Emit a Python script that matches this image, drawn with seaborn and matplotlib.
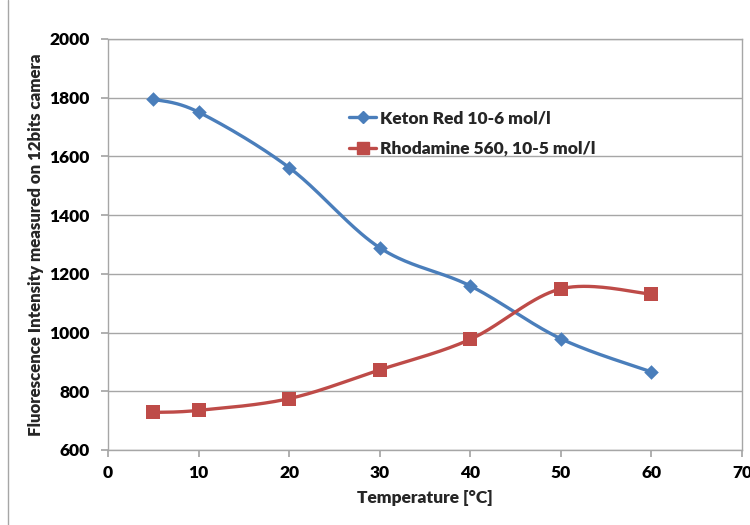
import numpy as np
import pandas as pd
import matplotlib
matplotlib.use("Agg")
import matplotlib.pyplot as plt
import seaborn as sns
from matplotlib.lines import Line2D

temperature = [5, 10, 20, 30, 40, 50, 60]
keton_red = [1795, 1751, 1562, 1289, 1159, 979, 866]
rhodamine = [728, 735, 775, 873, 977, 1149, 1131]
series_names = ["Keton Red 10-6 mol/l", "Rhodamine 560, 10-5 mol/l"]
x_ticks = [0, 10, 20, 30, 40, 50, 60, 70]
y_ticks = [600, 800, 1000, 1200, 1400, 1600, 1800, 2000]

BLUE = "#4A7EBB"
RED = "#BE4B48"

sns.set_theme(style="white")
plt.rcParams["font.family"] = ["Lato", "DejaVu Sans"]
plt.rcParams["font.weight"] = "heavy"


def smooth(xs, ys, n=40):
    # Catmull-Rom style bezier smoothing (as spreadsheet "smoothed line")
    xs = np.asarray(xs, float)
    ys = np.asarray(ys, float)
    px = np.concatenate([[xs[0]], xs, [xs[-1]]])
    py = np.concatenate([[ys[0]], ys, [ys[-1]]])
    ox, oy = [], []
    for i in range(1, len(px) - 2):
        p0 = np.array([px[i - 1], py[i - 1]])
        p1 = np.array([px[i], py[i]])
        p2 = np.array([px[i + 1], py[i + 1]])
        p3 = np.array([px[i + 2], py[i + 2]])
        c1 = p1 + (p2 - p0) / 6.0
        c2 = p2 - (p3 - p1) / 6.0
        t = np.linspace(0, 1, n)[:, None]
        b = ((1 - t) ** 3) * p1 + 3 * ((1 - t) ** 2) * t * c1 + 3 * (1 - t) * t ** 2 * c2 + t ** 3 * p2
        ox.extend(b[:, 0])
        oy.extend(b[:, 1])
    return np.array(ox), np.array(oy)


df = pd.DataFrame({
    "Temperature": temperature * 2,
    "Intensity": keton_red + rhodamine,
    "Series": [series_names[0]] * len(temperature) + [series_names[1]] * len(temperature),
})

fig = plt.figure(figsize=(7.5, 5.25), dpi=100)
ax = fig.add_axes([108 / 750, 1 - 450 / 525, 634 / 750, 411 / 525])

for name, vals, col in [(series_names[0], keton_red, BLUE), (series_names[1], rhodamine, RED)]:
    sx, sy = smooth(temperature, vals)
    ax.plot(sx, sy, color=col, lw=2.4, solid_capstyle="round", zorder=3)

sub1 = df[df.Series == series_names[0]]
sub2 = df[df.Series == series_names[1]]
sns.scatterplot(data=sub1, x="Temperature", y="Intensity", color=BLUE, marker="D", s=55,
                linewidth=0, ax=ax, zorder=4, legend=False)
sns.scatterplot(data=sub2, x="Temperature", y="Intensity", color=RED, marker="s", s=95,
                linewidth=0, ax=ax, zorder=4, legend=False)

FS = 12.5
ax.set_xlim(0, 70)
ax.set_ylim(600, 2000)
ax.set_xticks(x_ticks)
ax.set_yticks(y_ticks)
ax.set_xticklabels([str(v) for v in x_ticks], fontsize=FS, fontweight="heavy")
ax.set_yticklabels([str(v) for v in y_ticks], fontsize=FS, fontweight="heavy")
ax.yaxis.grid(True, color="#A6A6A6", lw=1)
ax.xaxis.grid(False)
ax.set_axisbelow(True)
for s in ax.spines.values():
    s.set_color("#A6A6A6")
    s.set_linewidth(1)
ax.tick_params(axis="both", which="both", length=5, color="#A6A6A6", direction="out",
               left=True, bottom=True, labelcolor="black")
ax.tick_params(axis="x", pad=6)
ax.tick_params(axis="y", pad=8)

ax.set_xlabel("Temperature [°C]", fontsize=12.5, fontweight="heavy", labelpad=6)
ax.set_ylabel("Fluorescence Intensity measured on 12bits camera", fontsize=12.2,
              fontweight="heavy", labelpad=4)

handles = [
    Line2D([0], [0], color=BLUE, lw=2.4, marker="D", markersize=6.5),
    Line2D([0], [0], color=RED, lw=2.4, marker="s", markersize=9),
]
leg = ax.legend(handles, series_names, loc="upper left", bbox_to_anchor=(0.355, 0.865),
                frameon=False, prop={"weight": "heavy", "size": 12.5},
                handlelength=1.6, handletextpad=0.2, labelspacing=0.85)

fig.add_artist(Line2D([8 / 750, 8 / 750], [0, 1], color="#A6A6A6", lw=1,
                      transform=fig.transFigure))

fig.savefig("out.png", dpi=100)
